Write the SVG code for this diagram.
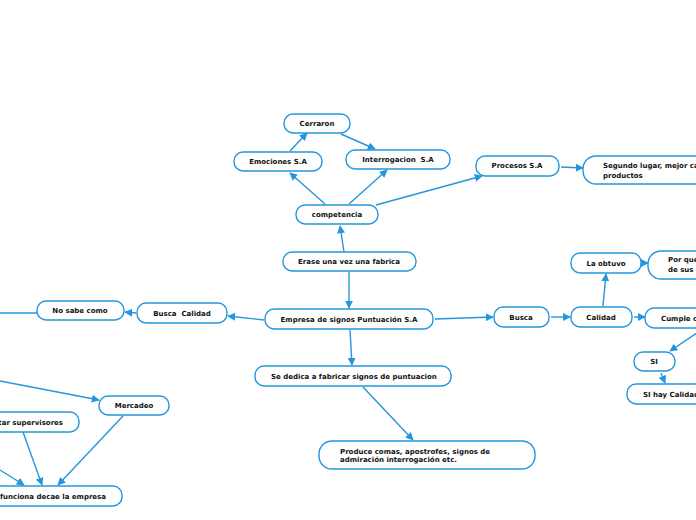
<svg xmlns="http://www.w3.org/2000/svg" width="696" height="520" viewBox="0 0 696 520">
<defs>
<marker id="ah" viewBox="0 0 10 10" refX="9" refY="5" markerWidth="8" markerHeight="8" markerUnits="userSpaceOnUse" orient="auto">
<path d="M0,0 L10,5 L0,10 z" fill="#2496dd"/>
</marker>
<style>
.n rect{fill:#fff;stroke:#2496dd;stroke-width:1.4}
.n text{font-family:"DejaVu Sans",Verdana,sans-serif;font-weight:bold;font-size:7px;fill:#111}
.c{text-anchor:middle}
#connectors line{stroke:#2496dd;stroke-width:1.4;fill:none}
.a{marker-end:url(#ah)}
</style>
</defs>
<rect width="696" height="520" fill="#fff"/>
<g id="connectors">
<line class="a" x1="344" y1="252" x2="340" y2="226"/>
<line class="a" x1="325" y1="204" x2="290" y2="173"/>
<line class="a" x1="349" y1="204" x2="387" y2="170"/>
<line class="a" x1="290" y1="151" x2="307" y2="133"/>
<line class="a" x1="341" y1="134" x2="375" y2="149"/>
<line class="a" x1="376" y1="205" x2="482" y2="176"/>
<line class="a" x1="561" y1="167" x2="583" y2="168"/>
<line class="a" x1="349" y1="272" x2="349" y2="308"/>
<line class="a" x1="435" y1="319" x2="493" y2="317"/>
<line class="a" x1="551" y1="317" x2="570" y2="317"/>
<line class="a" x1="603" y1="306" x2="606" y2="274"/>
<line class="a" x1="642" y1="263" x2="648" y2="263"/>
<line class="a" x1="634" y1="317" x2="645" y2="317"/>
<line class="a" x1="697" y1="333" x2="670" y2="351"/>
<line class="a" x1="661" y1="373" x2="665" y2="383"/>
<line class="a" x1="264" y1="320" x2="228" y2="316"/>
<line class="a" x1="136" y1="313" x2="125" y2="312"/>
<line x1="37" y1="313" x2="0" y2="313"/>
<line class="a" x1="350" y1="330" x2="352" y2="365"/>
<line class="a" x1="363" y1="387" x2="413" y2="440"/>
<line class="a" x1="0" y1="381" x2="99" y2="400"/>
<line class="a" x1="123" y1="416" x2="58" y2="485"/>
<line class="a" x1="23" y1="432" x2="42" y2="485"/>
<line class="a" x1="0" y1="470" x2="24" y2="485"/>
</g>
<g id="n-cerraron" class="n"><rect x="284" y="114" width="66" height="19" rx="9"/><text class="c" x="317" y="126">Cerraron</text></g>
<g id="n-emociones" class="n"><rect x="234" y="152" width="88" height="19" rx="9"/><text class="c" x="278" y="164">Emociones S.A</text></g>
<g id="n-interrogacion" class="n"><rect x="346" y="150" width="104" height="19" rx="9"/><text class="c" x="398" y="162" xml:space="preserve">Interrogacion  S.A</text></g>
<g id="n-competencia" class="n"><rect x="296" y="205" width="82" height="19" rx="9"/><text class="c" x="337" y="217">competencia</text></g>
<g id="n-erase" class="n"><rect x="283" y="252" width="133" height="19" rx="9"/><text class="c" x="349" y="264">Erase una vez una fabrica</text></g>
<g id="n-procesos" class="n"><rect x="476" y="156" width="83" height="20" rx="9"/><text class="c" x="517" y="168">Procesos S.A</text></g>
<g id="n-segundo" class="n"><rect x="583" y="156" width="140" height="28" rx="13"/><text x="603" y="168">Segundo lugar, mejor calidad de</text><text x="603" y="178">productos</text></g>
<g id="n-obtuvo" class="n"><rect x="571" y="253" width="70" height="20" rx="9"/><text class="c" x="606" y="266">La obtuvo</text></g>
<g id="n-porque" class="n"><rect x="648" y="251" width="80" height="28" rx="13"/><text x="668" y="262">Por que cumple</text><text x="668" y="272">de sus</text></g>
<g id="n-empresa" class="n"><rect x="265" y="309" width="168" height="20" rx="9"/><text class="c" x="349" y="322">Empresa de signos Puntuación S.A</text></g>
<g id="n-busca" class="n"><rect x="494" y="307" width="55" height="20" rx="9"/><text class="c" x="521" y="320">Busca</text></g>
<g id="n-calidad" class="n"><rect x="571" y="307" width="61" height="20" rx="9"/><text class="c" x="601" y="320">Calidad</text></g>
<g id="n-cumple" class="n"><rect x="645" y="308" width="80" height="20" rx="9"/><text x="661" y="321">Cumple con</text></g>
<g id="n-si" class="n"><rect x="634" y="352" width="41" height="19" rx="9"/><text class="c" x="654" y="364">SI</text></g>
<g id="n-sihay" class="n"><rect x="627" y="384" width="100" height="20" rx="9"/><text x="643" y="397">SI hay Calidad</text></g>
<g id="n-buscacalidad" class="n"><rect x="137" y="303" width="90" height="20" rx="9"/><text class="c" x="182" y="316" xml:space="preserve">Busca  Calidad</text></g>
<g id="n-nosabe" class="n"><rect x="37" y="301" width="87" height="19" rx="9"/><text class="c" x="80" y="313">No sabe como</text></g>
<g id="n-sededica" class="n"><rect x="255" y="366" width="196" height="20" rx="9"/><text x="271" y="379">Se dedica a fabricar signos de puntuacion</text></g>
<g id="n-produce" class="n"><rect x="319" y="441" width="216" height="28" rx="13"/><text x="340" y="454">Produce comas, apostrofes, signos de</text><text x="340" y="462">admiración interrogación etc.</text></g>
<g id="n-mercadeo" class="n"><rect x="99" y="396" width="70" height="19" rx="9"/><text class="c" x="134" y="408">Mercadeo</text></g>
<g id="n-supervisores" class="n"><rect x="-60" y="412" width="139" height="20" rx="9"/><text text-anchor="end" x="63" y="425">Contratar supervisores</text></g>
<g id="n-funciona" class="n"><rect x="-120" y="486" width="242" height="20" rx="9"/><text text-anchor="end" x="106" y="499">Si no funciona decae la empresa</text></g>
</svg>
